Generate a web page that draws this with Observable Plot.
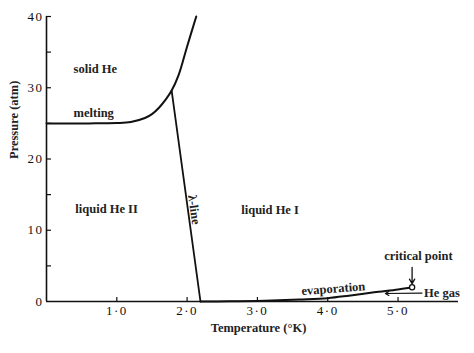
<!DOCTYPE html>
<html>
<head>
<meta charset="utf-8">
<script src="https://cdn.jsdelivr.net/npm/d3@7"></script>
<script src="https://cdn.jsdelivr.net/npm/@observablehq/plot@0.6"></script>
<style>
  html, body { margin: 0; padding: 0; background: #fff; }
  #chart svg { display: block; }
  #chart g[aria-label="y-axis tick label"] text,
  #chart g[aria-label="x-axis tick label"] text { letter-spacing: 1.5px; }
</style>
</head>
<body>
<div id="chart"></div>
<script>
// Melting curve (solid / liquid boundary)
const meltT = [0, 0.6, 1.0, 1.2, 1.4, 1.5, 1.6, 1.7, 1.78, 1.88, 2.0, 2.13];
const meltP = [25.0, 25.0, 25.05, 25.2, 25.75, 26.3, 27.2, 28.4, 29.6, 31.8, 35.8, 40.0];
// Lambda line
const lambdaT = [1.78, 2.19];
const lambdaP = [29.6, 0];
// Evaporation (vapour pressure) curve
const evapT = [2.19, 2.6, 3.0, 3.3, 3.6, 4.0, 4.3, 4.66, 5.0, 5.2];
const evapP = [0, 0.03, 0.08, 0.16, 0.28, 0.47, 0.82, 1.3, 1.7, 2.0];
// Critical point
const critT = [5.2];
const critP = [2.0];
// Ticks
const xTicks = [1, 2, 3, 4, 5];
const yLabelTicks = [0, 10, 20, 30, 40];
const yTicks = [5, 10, 15, 20, 25, 30, 35, 40];

// Region / annotation labels
const regionLabels = [
  {t: 0.385, p: 32.7, text: "solid He"},
  {t: 0.385, p: 26.5, text: "melting"},
  {t: 0.41, p: 13.0, text: "liquid He II"},
  {t: 2.77, p: 12.8, text: "liquid He I"},
  {t: 5.37, p: 1.25, text: "He gas"}
];

const melt = meltT.map((t, i) => ({t, p: meltP[i]}));
const lambda = lambdaT.map((t, i) => ({t, p: lambdaP[i]}));
const evap = evapT.map((t, i) => ({t, p: evapP[i]}));
const crit = critT.map((t, i) => ({t, p: critP[i]}));

const font = "Liberation Serif";
const fmt = d => d.toFixed(1).replace(".", "\u00B7");

const chart = Plot.plot({
  width: 474,
  height: 353,
  marginLeft: 46,
  marginRight: 16,
  marginTop: 16,
  marginBottom: 52,
  style: {fontFamily: font, fontSize: "12.5px", background: "#fff", color: "#111"},
  x: {domain: [0, 5.86]},
  y: {domain: [0, 40]},
  marks: [
    // axis lines
    Plot.ruleY([0], {x1: 0, x2: 5.86, stroke: "#111", strokeWidth: 1.6}),
    Plot.ruleX([0], {y1: 0, y2: 40, stroke: "#111", strokeWidth: 1.6}),
    // inward ticks
    Plot.ruleY(yTicks, {x1: 0, x2: 0, insetRight: -5, stroke: "#111", strokeWidth: 1.2}),
    Plot.ruleX(xTicks, {y1: 0, y2: 0, insetBottom: 4, stroke: "#111", strokeWidth: 1.2}),
    // tick labels
    Plot.axisY({ticks: yLabelTicks, tickSize: 0, tickPadding: 3, label: null, fontSize: 13, tickFormat: d => String(d)}),
    Plot.axisX({ticks: xTicks, tickSize: 0, tickPadding: 4, label: null, fontSize: 13, tickFormat: fmt}),
    // axis titles
    Plot.text(["Pressure (atm)"], {frameAnchor: "left", dx: -33, rotate: -90, fontSize: 12.5, fontWeight: "bold", fill: "#222"}),
    Plot.text(["Temperature (\u00B0K)"], {frameAnchor: "bottom", dx: 6, dy: 30, fontSize: 12.5, fontWeight: "bold", fill: "#222"}),
    // curves
    Plot.line(melt, {x: "t", y: "p", curve: "catmull-rom", stroke: "#111", strokeWidth: 2}),
    Plot.line(lambda, {x: "t", y: "p", stroke: "#111", strokeWidth: 1.8}),
    Plot.line(evap, {x: "t", y: "p", curve: "catmull-rom", stroke: "#111", strokeWidth: 2}),
    // critical point
    Plot.dot(crit, {x: "t", y: "p", r: 2.6, fill: "#fff", stroke: "#111", strokeWidth: 1.3}),
    Plot.arrow(crit, {x1: "t", x2: "t", y1: d => d.p + 2.8, y2: d => d.p + 0.5, stroke: "#111", strokeWidth: 1.3, headLength: 6}),
    Plot.text(crit, {x: d => d.t + 0.09, y: d => d.p + 4.45, text: () => "critical point", fontSize: 12.5, fontWeight: "bold", fill: "#222"}),
    // He gas arrow
    Plot.arrow(crit, {x1: d => d.t + 0.14, y1: d => d.p - 0.82, x2: d => d.t - 0.38, y2: d => d.p - 0.88, stroke: "#111", strokeWidth: 1.2, headLength: 5}),
    // labels
    Plot.text(regionLabels, {x: "t", y: "p", text: "text", textAnchor: "start", fontSize: 12.5, fontWeight: "bold", fill: "#222"}),
    Plot.text(["evaporation"], {x: 4.08, y: 1.8, rotate: -4.3, fontSize: 12.5, fontWeight: "bold", fill: "#222"}),
    Plot.text(["\u03BB-line"], {x: 2.1, y: 12.9, rotate: 82, fontSize: 12.5, fontWeight: "bold", fill: "#222"})
  ]
});

document.getElementById("chart").appendChild(chart);
</script>
</body>
</html>
